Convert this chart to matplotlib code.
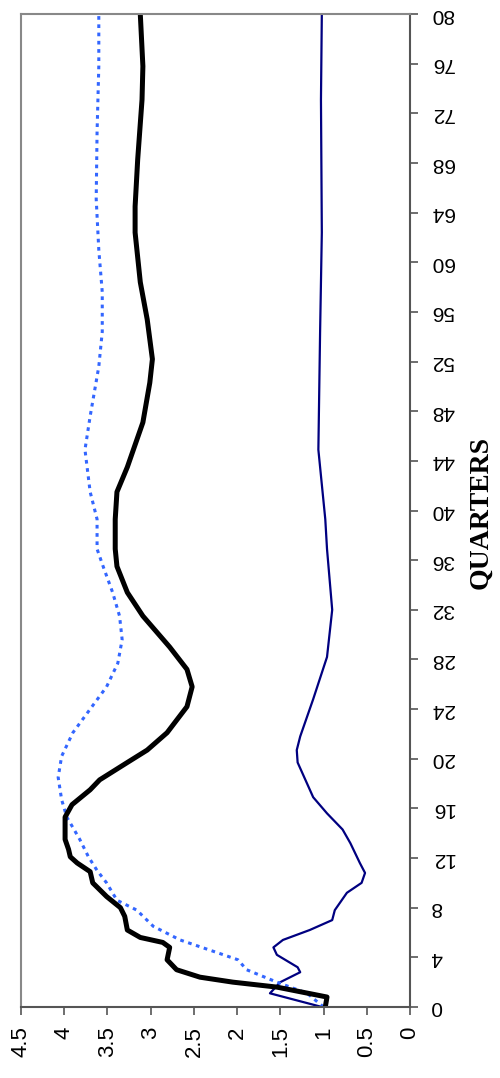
import numpy as np
import matplotlib
matplotlib.use("Agg")
import matplotlib.pyplot as plt

# Series (quarter, value) -- chart is drawn rotated
black_q = [0, 0.8, 1.6, 2.0, 2.4, 3.0, 3.8, 4.8, 5.2, 5.6, 6.2, 7.3, 8.0, 8.9, 10.0, 10.9,
           11.6, 12.1, 12.7, 13.5, 15.3, 16.3, 17.5, 18.3, 19.7, 20.7, 22.1, 24.2, 25.8,
           27.2, 29.0, 31.5, 33.4, 35.5, 36.9, 39.3, 41.5, 43.5, 47.1, 50.3, 52.2, 55.4,
           58.4, 62.4, 64.5, 68.3, 73.1, 75.8, 80]
black_v = [0.98, 0.96, 1.54, 2.05, 2.43, 2.70, 2.81, 2.78, 2.86, 3.12, 3.27, 3.30, 3.35,
           3.51, 3.67, 3.70, 3.85, 3.93, 3.95, 3.99, 3.99, 3.91, 3.70, 3.59, 3.27, 3.04,
           2.81, 2.58, 2.52, 2.58, 2.78, 3.09, 3.27, 3.39, 3.41, 3.41, 3.39, 3.27, 3.09,
           3.01, 2.98, 3.04, 3.12, 3.18, 3.18, 3.15, 3.10, 3.09, 3.12]

blue_q = [0, 1.1, 2.0, 3.0, 3.8, 4.4, 5.4, 6.5, 7.8, 8.6, 10.0, 11.0, 12.1, 13.5, 15.3,
          16.7, 18.5, 20.2, 22.1, 24.0, 25.8, 27.7, 29.6, 31.5, 33.4, 35.5, 36.9, 39.3,
          41.5, 44.9, 47.6, 51.6, 54.4, 57.6, 61.0, 65.1, 70.5, 75.8, 80]
blue_v = [1.00, 1.19, 1.54, 1.89, 1.99, 2.24, 2.66, 2.97, 3.16, 3.39, 3.51, 3.62, 3.72,
          3.82, 3.97, 4.03, 4.07, 4.03, 3.90, 3.70, 3.51, 3.38, 3.33, 3.36, 3.44, 3.55,
          3.62, 3.62, 3.70, 3.76, 3.70, 3.60, 3.56, 3.56, 3.60, 3.63, 3.62, 3.60, 3.60]

navy_q = [0, 1.1, 2.0, 2.8, 3.2, 4.2, 4.8, 5.4, 6.2, 7.0, 7.8, 9.2, 10.0, 10.8, 11.6,
          13.2, 14.3, 15.6, 16.9, 18.3, 19.7, 20.7, 21.8, 24.8, 28.2, 32.0, 36.9, 39.3,
          44.9, 54.4, 62.4, 73.1, 80]
navy_v = [1.02, 1.62, 1.50, 1.27, 1.30, 1.54, 1.58, 1.47, 1.16, 0.90, 0.87, 0.73, 0.56,
          0.52, 0.58, 0.69, 0.78, 0.96, 1.12, 1.21, 1.30, 1.31, 1.27, 1.12, 0.96, 0.90,
          0.96, 0.98, 1.06, 1.04, 1.02, 1.03, 1.02]

value_ticks = [0, 0.5, 1, 1.5, 2, 2.5, 3, 3.5, 4, 4.5]
value_labels = ["0", "0.5", "1", "1.5", "2", "2.5", "3", "3.5", "4", "4.5"]
quarter_ticks = list(range(0, 81, 4))

fig = plt.figure(figsize=(5, 10.78), dpi=100)
ax = fig.add_axes([0.042, 0.0659, 0.778, 0.921])

ax.plot(navy_v, navy_q, color="#000080", lw=1.6, solid_joinstyle="round")
ax.plot(blue_v, blue_q, color="#3366FF", lw=2.2, linestyle=(0, (1.2, 1.5)))
ax.plot(black_v, black_q, color="black", lw=3.6, solid_joinstyle="round",
        solid_capstyle="round")

ax.set_xlim(4.5, 0)
ax.set_ylim(0, 80)

ax.set_xticks(value_ticks)
ax.set_xticklabels(value_labels, rotation=90, fontsize=16, family="Liberation Sans")
ax.set_yticks(quarter_ticks)
ax.set_yticklabels([str(q) for q in quarter_ticks], rotation=180, fontsize=15,
                   family="Liberation Sans", va="center")
ax.yaxis.tick_right()
ax.tick_params(axis="both", direction="out", length=6, width=1.2, colors="#555555",
               labelcolor="black")
ax.tick_params(axis="y", pad=9)
ax.tick_params(axis="x", pad=8)

for side in ["left", "top"]:
    ax.spines[side].set_color("#888888")
    ax.spines[side].set_linewidth(1.5)
for side in ["right", "bottom"]:
    ax.spines[side].set_color("#555555")
    ax.spines[side].set_linewidth(1.5)

fig.text(0.962, 0.525, "QUARTERS", rotation=90, fontsize=20, fontweight="bold",
         family="Liberation Serif", ha="center", va="center")

fig.savefig("out.png", dpi=100)
